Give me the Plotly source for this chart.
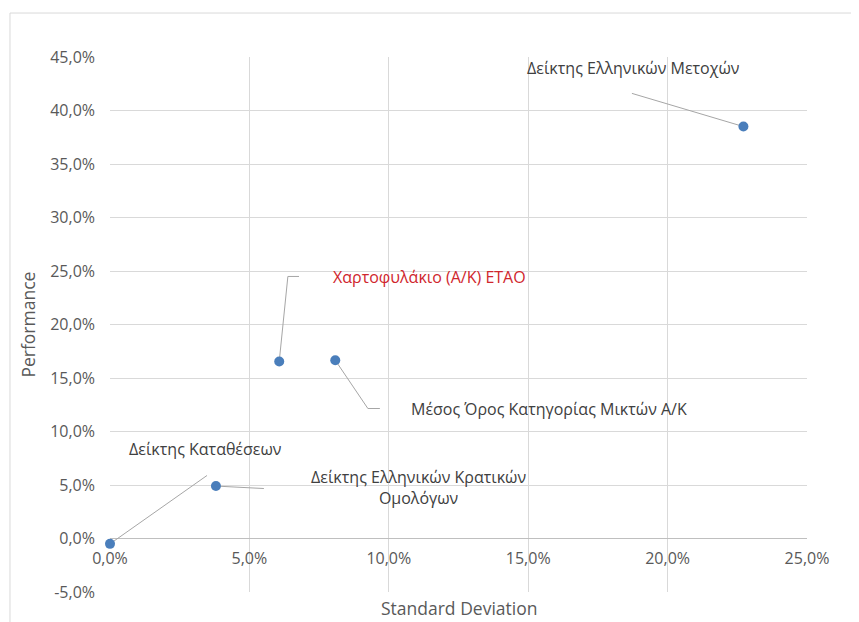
import plotly.graph_objects as go

# ---- data ----
names = [
    "Δείκτης Καταθέσεων",
    "Δείκτης Ελληνικών Κρατικών<br>Ομολόγων",
    "Χαρτοφυλάκιο (Α/Κ) ΕΤΑΟ",
    "Μέσος Όρος Κατηγορίας Μικτών Α/Κ",
    "Δείκτης Ελληνικών Μετοχών",
]
std_dev = [0.000, 0.038, 0.0607, 0.0808, 0.2272]
performance = [-0.005, 0.049, 0.1654, 0.1666, 0.385]
x_ticks = [0.0, 0.05, 0.10, 0.15, 0.20, 0.25]
y_ticks = [-0.05, 0.0, 0.05, 0.10, 0.15, 0.20, 0.25, 0.30, 0.35, 0.40, 0.45]
y_tick_text = ["-5,0%", "0,0%", "5,0%", "10,0%", "15,0%", "20,0%",
               "25,0%", "30,0%", "35,0%", "40,0%", "45,0%"]

# label placement (offsets from each point, in axis units) and leader elbows
label_dx = [0.0343, 0.0725, 0.0540, 0.0767, -0.0396]
label_dy = [0.0882, -0.0013, 0.0786, -0.0460, 0.0550]
leader_pts = [
    [(0.0348, 0.0639)],
    [(0.0172, -0.0023)],
    [(0.0031, 0.0795), (0.0071, 0.0795)],
    [(0.0117, -0.0451), (0.0160, -0.0451)],
    [(-0.0400, 0.0310)],
]
label_colors = ["#404040", "#404040", "#d0262d", "#404040", "#404040"]

FONT = "Open Sans"
GRID = "#d9d9d9"

fig = go.Figure()
fig.add_trace(go.Scatter(
    x=std_dev, y=performance, mode="markers",
    marker=dict(size=10, color="#4a7ebb"),
    cliponaxis=False,
    hoverinfo="x+y", showlegend=False,
))

shapes = []
annotations = []
for i, n in enumerate(names):
    px, py = std_dev[i], performance[i]
    path = f"M {px},{py}"
    for dx, dy in leader_pts[i]:
        path += f" L {px+dx},{py+dy}"
    shapes.append(dict(type="path", xref="x", yref="y", path=path,
                       line=dict(color="#a6a6a6", width=1), layer="between"))
    annotations.append(dict(
        x=px + label_dx[i], y=py + label_dy[i], xref="x", yref="y",
        text=n, showarrow=False, xanchor="center", yanchor="middle", align="center",
        font=dict(family=FONT, size=16, color=label_colors[i]),
    ))

# chart border
shapes.append(dict(type="rect", xref="paper", yref="paper",
                   x0=-0.1435, x1=1.3, y0=-0.2, y1=1.0822,
                   line=dict(color=GRID, width=1), fillcolor="rgba(0,0,0,0)", layer="below"))

annotations.append(dict(x=0.5, y=-0.03, xref="paper", yref="paper", text="Standard Deviation",
                        showarrow=False, xanchor="center", yanchor="middle",
                        font=dict(family=FONT, size=17.5, color="#595959")))
annotations.append(dict(x=-0.119, y=0.5, xref="paper", yref="paper", text="Performance",
                        showarrow=False, xanchor="center", yanchor="middle", textangle=-90,
                        font=dict(family=FONT, size=17.5, color="#595959")))

fig.update_layout(
    width=851, height=614,
    margin=dict(l=102, r=52, t=49, b=30),
    paper_bgcolor="white", plot_bgcolor="white",
    separators=",.",
    shapes=shapes, annotations=annotations,
    font=dict(family=FONT, color="#595959"),
    xaxis=dict(range=[0, 0.25], tickvals=x_ticks, tickformat=".1%",
               showgrid=True, gridcolor=GRID, zeroline=False, showline=False,
               anchor="free", position=0.1, ticks="", ticklabelstandoff=8,
               tickfont=dict(family=FONT, size=16, color="#595959")),
    yaxis=dict(range=[-0.05, 0.45], tickvals=y_ticks, ticktext=y_tick_text,
               showgrid=True, gridcolor=GRID, zeroline=True, zerolinecolor="#bfbfbf",
               zerolinewidth=1, showline=False, ticks="", ticklabelstandoff=14,
               tickfont=dict(family=FONT, size=16, color="#595959")),
)

fig.write_html("out.html")
